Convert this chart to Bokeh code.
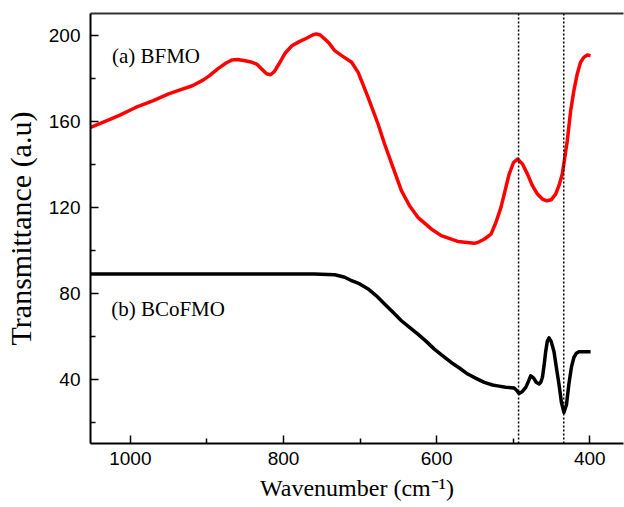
from bokeh.plotting import figure
from bokeh.models import Range1d, FixedTicker, Span, LinearAxis
from bokeh.core.properties import value
from bokeh.embed import file_html
from bokeh.resources import INLINE

# Data
bfmo_x = [1052, 1036, 1015, 993, 970, 950, 935, 919, 905, 897, 885, 875, 867, 860, 850, 841,
          835, 828, 822, 817, 812, 806, 798, 789, 780, 770, 762, 757, 752, 746, 740, 733,
          724, 711, 702.5, 689.5, 676.5, 668, 657, 646, 635.4, 624.5, 607, 594, 572.4, 551,
          546.4, 538, 529, 522.6, 516, 509.6, 505.3, 499.6, 494.4, 487.9, 481.4, 474.9,
          468.4, 461.9, 456.3, 450.2, 444.6, 440.3, 435.9, 429.4, 425, 420.8, 416.4, 412.1,
          407.8, 403.4, 399]
bfmo_y = [157, 159.4, 162.5, 166.3, 169.5, 172.6, 174.5, 176.4, 179, 181, 184.5, 187, 188.4,
          188.6, 188, 187.3, 186.5, 184, 182, 181.5, 183, 186.5, 191.5, 195, 196.8, 198.5,
          200, 200.5, 200, 198.1, 196, 192.7, 190.4, 187.3, 182.6, 171, 158.6, 149.3, 138.4,
          127.6, 120.6, 115.2, 109.8, 106.7, 104, 103.1, 103.5, 105, 107.4, 112.8, 119.8,
          129.1, 135.3, 140.7, 142.3, 140, 135.3, 129.9, 126, 123.7, 122.9, 123.4, 126,
          129.9, 135.3, 150.8, 164.8, 174.1, 181.9, 187.3, 189.6, 190.7, 190.4]

bcofmo_x = [1052, 760, 733, 720, 711, 700.4, 689.5, 678.7, 668, 657, 646, 635.4, 624.5, 613.6,
            603, 592, 581, 570.3, 559.4, 548.6, 537.8, 527, 520.4, 510, 498.8, 495, 492.3,
            488, 483.6, 480, 477.1, 473.5, 470, 466.3, 464, 461.9, 459.8, 457.6, 455.5, 453.3,
            450.5, 446.8, 443.5, 440.3, 437, 433.8, 430.5, 427.3, 424, 420.8, 417.5, 414.3, 399]
bcofmo_y = [88.8, 88.8, 88.5, 87.3, 85.7, 84.2, 81.9, 78.7, 74.9, 71, 67.1, 64, 60.9, 57.5,
            53.9, 50.8, 47.7, 45.1, 42.3, 40.3, 38.4, 37.2, 36.8, 36.2, 35.8, 34.5, 33.3,
            34.2, 36.1, 39, 41.5, 40.5, 38.5, 37.7, 38.5, 40.7, 46, 52.8, 57.5, 59.1,
            57.5, 52.8, 45, 37.7, 29, 24.5, 28, 37.7, 45.5, 50, 52, 52.7, 52.7]

marker_lines = [493, 434]
x_ticks = [400, 600, 800, 1000]
x_minor = [500, 700, 900]
y_ticks = [40, 80, 120, 160, 200]
y_minor = [20, 60, 100, 140, 180]
labels = ["(a) BFMO", "(b) BCoFMO"]
label_x = [1024, 1025]
label_y = [190.4, 72.6]

p = figure(width=624, height=507, output_backend="svg", toolbar_location=None,
           x_range=Range1d(1052, 356), y_range=Range1d(10, 210),
           min_border_left=88, min_border_top=13, min_border_bottom=64, min_border_right=1)
p.background_fill_color = "white"
p.border_fill_color = "white"
p.grid.visible = False
p.outline_line_color = None

for ax in (p.xaxis[0], p.yaxis[0]):
    ax.axis_line_color = "black"
    ax.axis_line_width = 2
    ax.major_tick_in = 8
    ax.major_tick_out = 0
    ax.minor_tick_in = 5
    ax.minor_tick_out = 0
    ax.major_tick_line_width = 1.5
    ax.minor_tick_line_width = 1.5
    ax.major_tick_line_color = "black"
    ax.minor_tick_line_color = "black"
    ax.major_label_text_font = "Liberation Sans"
    ax.major_label_text_font_size = "19px"
    ax.major_label_text_color = "black"
    ax.axis_label_text_font = "Liberation Serif"
    ax.axis_label_text_font_style = "normal"
    ax.axis_label_text_color = "black"

p.xaxis[0].ticker = FixedTicker(ticks=x_ticks, minor_ticks=x_minor)
p.yaxis[0].ticker = FixedTicker(ticks=y_ticks, minor_ticks=y_minor)
p.xaxis[0].axis_label = "Wavenumber (cm\u207b\u00b9)"
p.xaxis[0].axis_label_text_font_size = "24px"
p.xaxis[0].major_label_standoff = 8
p.xaxis[0].axis_label_standoff = 7
p.yaxis[0].axis_label = "Transmittance (a.u)"
p.yaxis[0].axis_label_text_font_size = "30px"
p.yaxis[0].major_label_standoff = 10
p.yaxis[0].axis_label_standoff = 9

top = LinearAxis(ticker=FixedTicker(ticks=[]), axis_line_color="#333333", axis_line_width=2,
                 major_tick_in=0, major_tick_out=0, minor_tick_in=0, minor_tick_out=0,
                 major_label_standoff=0, major_label_text_font_size="0px")
p.add_layout(top, "above")

for xv in marker_lines:
    p.add_layout(Span(location=xv, dimension="height", line_color="black",
                      line_width=1.5, line_dash="2 2"))

p.line(bfmo_x, bfmo_y, line_color="#ff0000", line_width=3.5, line_join="round")
p.line(bcofmo_x, bcofmo_y, line_color="black", line_width=3.5, line_join="round")

p.text(x=label_x, y=label_y, text=labels, text_font=value("Liberation Serif"),
       text_font_size="21px", text_baseline="middle", text_align="left", text_color="black")

open("out.html", "w").write(file_html(p, INLINE))
